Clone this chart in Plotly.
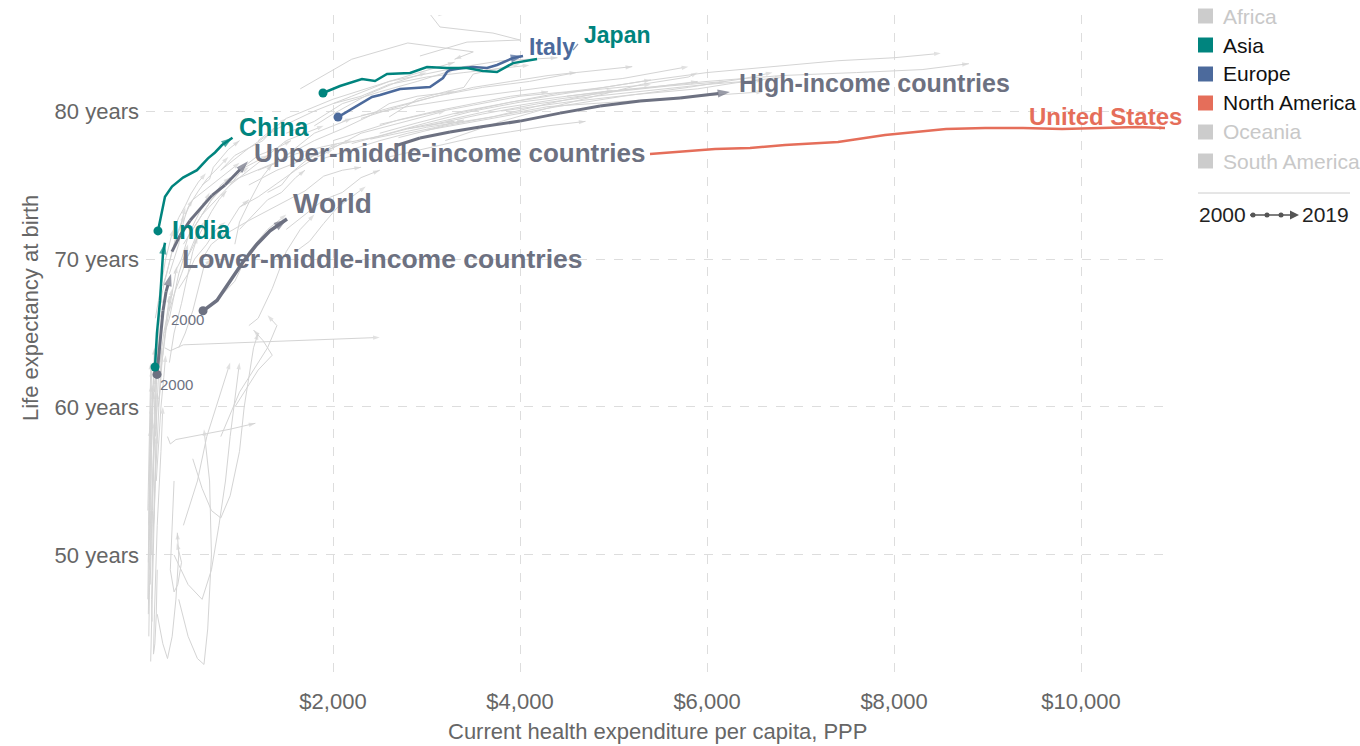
import plotly.graph_objects as go

# ---------------- data (current health expenditure per capita PPP $, life expectancy years) ----------------
years_label_start = "2000"
years_label_end = "2019"

# highlighted series
china_he = [128, 171, 203, 278, 396, 545, 599, 663, 738, 813, 925]
china_le = [71.9, 73.1, 74.2, 74.9, 75.5, 76.0, 76.35, 76.8, 77.2, 77.7, 78.2]

india_he = [96, 117, 150, 171, 182, 203]
india_le = [62.7, 65.0, 67.2, 69.0, 70.4, 71.1]

lmic_he = [118, 139, 160, 182, 215, 268]
lmic_le = [62.2, 63.5, 65.0, 66.5, 67.8, 69.0]

world_he = [610, 759, 898, 1037, 1187, 1326, 1508]
world_le = [66.5, 67.2, 68.5, 69.8, 71.0, 71.9, 72.7]

umic_he = [278, 364, 471, 578, 706, 845, 952, 1091]
umic_le = [70.5, 71.6, 72.6, 73.4, 74.3, 75.0, 75.7, 76.6]

hic_he = [2663, 2930, 3251, 3572, 4000, 4428, 4856, 5283, 5711, 6246]
hic_le = [77.64, 78.18, 78.58, 78.92, 79.32, 79.86, 80.34, 80.68, 80.88, 81.28]

italy_he = [2053, 2182, 2417, 2503, 2717, 3037, 3112, 3176, 3219, 3251, 3390, 3497, 3647, 3754, 3925, 4032]
italy_le = [79.59, 80.07, 80.95, 81.08, 81.49, 81.62, 81.96, 82.23, 82.64, 82.77, 82.91, 82.97, 82.91, 83.11, 83.58, 83.72]

japan_he = [1893, 2075, 2310, 2449, 2578, 2824, 3005, 3219, 3433, 3604, 3754, 3925, 4182]
japan_le = [81.22, 81.69, 82.16, 82.03, 82.50, 82.57, 82.97, 82.91, 82.91, 82.70, 82.64, 83.24, 83.51]

us_he = [5390, 6086, 6460, 6834, 7401, 7904, 8556, 8973, 9380, 9797, 10203, 10610, 10898]
us_le = [77.09, 77.43, 77.50, 77.70, 77.91, 78.38, 78.78, 78.85, 78.85, 78.78, 78.85, 78.92, 78.85]

# background countries (grey), grouped by region of the chart
bg_low_income = [
    ([30, 35, 42, 50, 58, 65, 70], [44.5, 46, 49, 53, 57, 60, 61.5]),
    ([25, 28, 33, 40, 48, 55, 60], [46, 48, 51, 55, 58, 61, 62.5]),
    ([45, 50, 60, 72, 85, 95, 100], [48, 49.5, 52, 56, 59, 61, 62]),
    ([60, 65, 70, 85, 100, 115, 125], [50, 51, 53, 57, 60, 63, 64.5]),
    ([20, 22, 28, 35, 40, 45], [47, 49, 52, 55, 57, 58.5]),
    ([80, 90, 100, 120, 140, 160, 170], [52, 53, 55, 58, 61, 63, 64]),
    ([35, 40, 50, 60, 70, 80], [51, 52.5, 55, 57, 59.5, 61]),
    ([110, 120, 140, 160, 190, 210], [55, 56, 58, 60, 62, 63.5]),
    ([50, 55, 60, 80, 100, 110, 120], [42.8, 44, 46, 50, 55, 59, 61]),
    ([120, 110, 95, 80, 90, 120, 160, 180], [49, 46, 44, 43.3, 46, 52, 57, 60]),
    ([45, 50, 60, 70, 80, 90], [56, 57, 58, 60, 62, 64]),
    ([100, 110, 125, 140, 155, 170], [58, 59, 61, 63, 65, 66.5]),
    ([70, 75, 85, 95, 105, 115], [54, 55, 57, 59, 61, 62.5]),
    ([130, 150, 170, 200, 230, 250], [60, 61, 63, 65, 66.5, 67.5]),
    ([30, 35, 40, 45, 50, 55], [52, 53, 55.5, 58, 60, 61.5]),
    ([40, 45, 55, 65, 75, 90], [49, 50, 52, 54, 57, 59]),
    ([90, 100, 115, 130, 150, 165], [61, 62, 63.5, 65, 66.5, 67.5]),
    ([20, 25, 30, 38, 45, 52], [53, 54.5, 56, 58, 60, 63]),
    ([65, 60, 70, 85, 95, 110], [45.5, 47, 50, 53, 56, 58]),
    ([150, 170, 190, 220, 250, 280], [63, 64, 65, 66, 67, 68]),
    ([55, 60, 68, 78, 88, 98], [57, 58.5, 60, 61.5, 63, 64]),
    ([25, 30, 36, 44, 52, 58], [49.5, 51, 53.5, 56, 58.5, 60]),
]

bg_southern_africa = [
    ([500, 600, 700, 800, 900, 1000, 1050, 1100, 1150, 1200], [56.5, 54.5, 53, 52.5, 54, 57, 60, 62, 64, 65]),
    ([300, 450, 600, 700, 780, 850, 900, 960, 1000], [50, 48, 47, 49, 52, 55, 58, 61, 63]),
    ([400, 450, 550, 650, 750, 850, 900], [52, 53, 55, 58, 60, 62, 63]),
    ([350, 450, 550, 620, 660, 700, 680, 620], [47, 44.5, 43, 42.6, 45, 50, 55, 58.5]),
    ([120, 180, 230, 280, 320, 350, 335], [46, 44, 43, 44.5, 47, 50, 51.5]),
    ([300, 280, 260, 300, 340, 380, 330], [55, 52, 49, 47.5, 48, 49.5, 50.8]),
    ([230, 260, 320, 900, 1170], [58.0, 57.5, 57.8, 58.5, 58.9]),
    ([200, 260, 400, 1200, 2500], [64.0, 63.8, 64.2, 64.4, 64.7]),
    ([800, 900, 1000, 1150, 1300, 1400, 1300], [58, 59.5, 61, 62.5, 64, 65.5, 66.2]),
    ([950, 1050, 1200, 1350, 1250, 1150], [60, 61, 62.5, 63.5, 64.5, 65.2]),
]

bg_middle_income = [
    ([150, 200, 260, 320, 380, 420], [67, 68.5, 70, 71.5, 72.5, 73.5]),
    ([300, 380, 450, 520, 600, 680], [69, 70, 71.5, 72.5, 73.5, 74.5]),
    ([400, 500, 600, 700, 800, 900], [71, 72, 73, 74, 75, 75.5]),
    ([500, 600, 750, 900, 1000, 1100], [72, 73, 74, 75, 75.8, 76.2]),
    ([600, 700, 850, 1000, 1150, 1300], [73, 74, 75, 76, 76.5, 77]),
    ([700, 850, 1000, 1200, 1400, 1550], [74, 75, 76, 77, 77.5, 78]),
    ([900, 1100, 1300, 1500, 1700, 1900], [75, 76, 77, 78, 78.5, 79]),
    ([250, 300, 380, 450, 500, 550], [63, 65, 67, 69, 70.5, 71.5]),
    ([200, 250, 300, 350, 400, 450], [65, 66, 67.5, 69, 70, 71]),
    ([350, 450, 520, 650, 750, 850], [68, 69, 70, 71, 72, 72.5]),
    ([600, 700, 800, 900, 1000, 1100], [70, 71, 71.5, 72.5, 73.5, 74]),
    ([1000, 1150, 1300, 1450, 1600, 1700], [72, 73, 74, 74.5, 75.5, 76]),
    ([800, 950, 1100, 1250, 1400, 1500], [76, 77, 77.5, 78, 79, 79.5]),
    ([1200, 1400, 1600, 1800, 2000, 2200], [76, 76.5, 77.5, 78.5, 79, 79.5]),
    ([500, 600, 700, 800, 900, 1000], [74, 74.5, 75, 75.5, 76, 76.5]),
    ([250, 300, 350, 400, 450, 500], [69, 70, 71, 72.5, 73.5, 74]),
    ([100, 130, 170, 210, 250, 290], [66, 67, 68.5, 70, 71, 72]),
    ([150, 180, 220, 260, 300, 330], [62, 63.5, 65.5, 67, 68.5, 69.5]),
    ([350, 420, 500, 560, 620, 700], [64, 65, 66.5, 68, 69.5, 70]),
    ([1100, 1200, 1350, 1500, 1650, 1800], [65.5, 66, 68, 70.5, 72, 73]),
    ([700, 800, 950, 1100, 1300, 1500], [67, 67.5, 68.5, 70.5, 72, 73]),
    ([1500, 1700, 1900, 2100, 2300, 2500], [72, 73, 74, 74.5, 75.5, 76]),
    ([1800, 2000, 2300, 2600, 2900, 3200], [77, 77.5, 78.5, 79, 79.5, 80]),
    ([300, 350, 420, 480, 560, 640], [72, 72.8, 73.6, 74.4, 75.2, 75.8]),
    ([450, 520, 600, 700, 780, 860], [70.2, 71.0, 72.0, 73.2, 74.0, 74.6]),
    ([180, 220, 270, 320, 370, 410], [68.2, 69.0, 70.3, 71.4, 72.2, 73.0]),
    ([1300, 1450, 1550, 1700, 1850, 2050], [74.5, 75.0, 75.8, 76.6, 77.2, 77.8]),
    ([600, 680, 720, 800, 880, 1000], [75.0, 75.4, 76.2, 76.8, 77.4, 78.0]),
    ([950, 1000, 1100, 1180, 1250, 1350], [71.0, 72.5, 73.8, 74.8, 75.6, 76.4]),
    ([1600, 1750, 1900, 2050, 2200, 2350], [70.5, 71.2, 72.4, 73.5, 74.2, 74.9]),
    ([250, 310, 380, 460, 540, 620], [66.5, 67.8, 69.0, 70.4, 71.6, 72.5]),
    ([420, 480, 560, 650, 760, 880], [73.0, 73.8, 74.6, 75.4, 76.1, 76.9]),
    ([1000, 1200, 1400, 1600, 1800, 2000], [73.5, 74.2, 75.1, 76.0, 76.8, 77.4]),
]

bg_high_income = [
    ([2000, 2300, 2700, 3100, 3500, 3900, 4300], [78, 78.6, 79.4, 80, 80.5, 81, 81.3]),
    ([2200, 2600, 3000, 3500, 4000, 4500, 5000], [77.8, 78.5, 79.2, 80, 80.6, 81, 81.4]),
    ([2500, 2900, 3400, 3900, 4400, 4900, 5400], [78.5, 79.2, 80, 80.6, 81.2, 81.5, 81.8]),
    ([2800, 3300, 3800, 4400, 5000, 5600, 6200], [78.8, 79.5, 80.2, 80.8, 81.3, 81.7, 82]),
    ([3000, 3600, 4200, 4800, 5400, 6000, 6600], [79, 79.8, 80.5, 81, 81.4, 81.8, 82.1]),
    ([2300, 2700, 3100, 3500, 3900, 4300, 4600], [79.5, 80.3, 81, 81.6, 82, 82.4, 82.6]),
    ([2000, 2300, 2600, 3000, 3400, 3800, 4100], [80.5, 81, 81.8, 82.3, 82.6, 82.9, 83.1]),
    ([3300, 3900, 4600, 5300, 6000, 6700, 7400, 8000, 8500], [79.8, 80.6, 81.3, 82, 82.6, 83, 83.4, 83.6, 83.9]),
    ([3000, 3700, 4400, 5100, 5800, 6400, 6700], [78.7, 79.5, 80.3, 81, 81.6, 82.2, 82.6]),
    ([3200, 3800, 4300, 4800, 5300, 5800, 5900], [78, 79.3, 80.2, 81, 81.8, 82.3, 82.6]),
    ([2700, 3200, 3700, 4300, 5000, 5700, 6600], [78.2, 79, 79.6, 80.3, 80.6, 80.9, 81.3]),
    ([2400, 3000, 3700, 4300, 4900, 5400, 5900], [78.1, 78.9, 79.6, 80.5, 81.3, 81.6, 82]),
    ([2300, 2800, 3300, 3900, 4500, 5100, 5800], [79.7, 80.3, 80.8, 81.3, 81.8, 82.2, 83]),
    ([2100, 2600, 3100, 3600, 4100, 4600, 5200], [79.3, 80.2, 81, 81.6, 82, 82.6, 83]),
    ([2500, 3000, 3500, 4000, 4500, 4900, 5400], [79.1, 79.8, 80.4, 81, 81.3, 81.6, 82.1]),
    ([800, 1100, 1400, 1800, 2200, 2600, 3300], [76, 77.5, 78.8, 80, 81, 82, 83.3]),
    ([1200, 1500, 2000, 2600, 3300, 3800, 4400], [78, 79.5, 80.8, 82, 82.9, 83.4, 83.6]),
    ([1500, 1800, 2100, 2400, 2600, 2900, 3300], [77, 78, 78.8, 79.7, 80.5, 81, 81.3]),
    ([1100, 1400, 1800, 2100, 2500, 2800, 3300], [75, 76, 77, 77.8, 78.3, 78.8, 79.3]),
    ([600, 800, 1000, 1300, 1600, 1900, 2200], [73.7, 74.8, 75.5, 76.3, 77.1, 77.6, 78]),
    ([800, 1100, 1400, 1700, 1900, 2100, 2300], [71.5, 72.6, 73.6, 74.6, 75.6, 76, 76.2]),
    ([2930, 3433, 4000, 3711, 3144, 3037, 3198], [83.72, 84.66, 84.8, 85.27, 85.68, 86.55, 86.55]),
    ([1800, 2000, 2200, 2400, 2700, 3000], [79, 79.8, 80.5, 81.2, 82, 82.6]),
    ([1500, 1800, 2100, 2500, 2900, 3300], [78.5, 79.3, 80.5, 81.3, 82, 82.8]),
    ([2600, 2900, 3200, 3400, 3500, 4000], [79.6, 80.8, 81.3, 81.6, 82.5, 83.2]),
    ([1650, 2200, 2800, 3500, 3300], [81.5, 83.5, 84.6, 84.0, 83.5]),
    ([4500, 5200, 6000, 6800, 7600, 8300, 8800], [81.0, 81.5, 82.0, 82.4, 82.6, 82.8, 83.2]),
    ([3800, 4500, 5200, 5900, 6300, 6800], [80.0, 80.6, 81.1, 81.5, 81.9, 82.3]),
    ([1900, 2200, 2500, 2800, 3100, 3400], [76.8, 77.4, 78.0, 78.5, 78.9, 79.4]),
    ([2600, 3000, 3500, 3900, 4300, 4700], [76.9, 77.5, 78.2, 78.6, 79.0, 79.3]),
]

# tick labels
x_tickvals = [2000, 4000, 6000, 8000, 10000]
x_ticktext = ["$2,000", "$4,000", "$6,000", "$8,000", "$10,000"]
y_tickvals = [50, 60, 70, 80]
y_ticktext = ["50 years", "60 years", "70 years", "80 years"]

legend_names = ["Africa", "Asia", "Europe", "North America", "Oceania", "South America"]
legend_active = [False, True, True, True, False, False]

# ---------------- styling ----------------
TEAL = "#00847E"
BLUE = "#4C6A9C"
RED = "#E56E5A"
GREY_INC = "#6D7181"
BG_LINE = "#d4d4d4"
FONT = "Liberation Sans, Arial, Helvetica, sans-serif"

X_MAX = 10898
Y_MIN, Y_MAX = 41.82, 86.49
PL, PR, PT, PB = 146, 1165, 15, 676  # plot area pixel bounds


def px_x(px):
    return (px - PL) / (PR - PL)


def px_y(py):
    return (PB - py) / (PB - PT)


fig = go.Figure()


def add_path(xs, ys, color, width, start_size, arrow_size):
    n = len(xs)
    symbols = ["circle"] * (n - 1) + ["arrow"]
    sizes = [0] * (n - 1) + [arrow_size]
    fig.add_trace(go.Scatter(
        x=xs, y=ys, mode="lines+markers",
        line=dict(color=color, width=width),
        marker=dict(symbol=symbols, size=sizes, color=color, angleref="previous",
                    line=dict(width=0)),
        hoverinfo="skip", showlegend=False,
    ))
    if start_size:
        fig.add_trace(go.Scatter(
            x=xs[:1], y=ys[:1], mode="markers",
            marker=dict(symbol="circle", size=start_size, color=color, line=dict(width=0)),
            hoverinfo="skip", showlegend=False,
        ))


for group in (bg_low_income, bg_southern_africa, bg_middle_income, bg_high_income):
    for xs, ys in group:
        add_path(xs, ys, BG_LINE, 1, 0, 7)

add_path(hic_he, hic_le, GREY_INC, 3, 0, 13)
add_path(umic_he, umic_le, GREY_INC, 3, 0, 13)
add_path(world_he, world_le, GREY_INC, 3.5, 9, 14)
add_path(lmic_he, lmic_le, GREY_INC, 3, 9, 13)
add_path(us_he, us_le, RED, 2.5, 0, 6)
add_path(italy_he, italy_le, BLUE, 2.5, 9, 13)
add_path(japan_he, japan_le, TEAL, 2.5, 9, 0)
add_path(india_he, india_le, TEAL, 2.5, 9, 12)
add_path(china_he, china_le, TEAL, 2.5, 9, 12)


def label(text, x, y, color, size, xanchor="left"):
    fig.add_annotation(x=x, y=y, xref="x", yref="y", text=f"<b>{text}</b>", showarrow=False,
                       xanchor=xanchor, yanchor="middle",
                       font=dict(family=FONT, size=size, color=color))


label("Japan", 4663, 85.14, TEAL, 23)
label("Italy", 4075, 84.32, BLUE, 23)
label("High-income countries", 6321, 81.89, GREY_INC, 25)
label("China", 973, 78.92, TEAL, 25)
label("Upper-middle-income countries", 1134, 77.16, GREY_INC, 26)
label("World", 1551, 73.72, GREY_INC, 28)
label("India", 257, 71.96, TEAL, 25)
label("Lower-middle-income countries", 364, 70.0, GREY_INC, 26.5)
fig.add_annotation(x=px_x(1184), y=px_y(116), xref="paper", yref="paper",
                   text="<b>United States</b>", showarrow=False, xanchor="right", yanchor="middle",
                   font=dict(family=FONT, size=24, color=RED))

for txt, xx, yy in ((years_label_start, 128, 61.49), (years_label_start, 246, 65.88)):
    fig.add_annotation(x=xx, y=yy, xref="x", yref="y", text=txt, showarrow=False,
                       xanchor="left", yanchor="middle",
                       font=dict(family=FONT, size=15, color=GREY_INC))

# connector tick for Japan label
fig.add_shape(type="line", x0=4567, y0=84.12, x1=4620, y1=84.53, xref="x", yref="y",
              line=dict(color="#8a9ab5", width=1.2))

# axis titles
fig.add_annotation(x=px_x(657), y=px_y(731), xref="paper", yref="paper",
                   text="Current health expenditure per capita, PPP", showarrow=False,
                   xanchor="center", yanchor="middle",
                   font=dict(family=FONT, size=22, color="#666666"))
fig.add_annotation(x=px_x(30), y=px_y(308), xref="paper", yref="paper",
                   text="Life expectancy at birth", showarrow=False, textangle=-90,
                   xanchor="center", yanchor="middle",
                   font=dict(family=FONT, size=22, color="#666666"))

# legend (custom)
legend_colors = ["#cccccc", TEAL, BLUE, RED, "#cccccc", "#cccccc"]
for i, (name, active) in enumerate(zip(legend_names, legend_active)):
    cy = 16 + 29 * i
    fig.add_shape(type="rect", xref="paper", yref="paper",
                  x0=px_x(1198), x1=px_x(1213), y0=px_y(cy + 7.5), y1=px_y(cy - 7.5),
                  fillcolor=legend_colors[i], line=dict(width=0))
    fig.add_annotation(x=px_x(1221), y=px_y(cy), xref="paper", yref="paper", text=name,
                       showarrow=False, xanchor="left", yanchor="middle",
                       font=dict(family=FONT, size=21, color="#111111" if active else "#c8c8c8"))

fig.add_shape(type="line", xref="paper", yref="paper", x0=px_x(1198), x1=px_x(1350),
              y0=px_y(193), y1=px_y(193), line=dict(color="#cccccc", width=1))
fig.add_annotation(x=px_x(1197), y=px_y(215), xref="paper", yref="paper", text=years_label_start,
                   showarrow=False, xanchor="left", yanchor="middle",
                   font=dict(family=FONT, size=21, color="#222222"))
fig.add_annotation(x=px_x(1300), y=px_y(215), xref="paper", yref="paper", text=years_label_end,
                   showarrow=False, xanchor="left", yanchor="middle",
                   font=dict(family=FONT, size=21, color="#222222"))
fig.add_shape(type="line", xref="paper", yref="paper", x0=px_x(1250), x1=px_x(1292),
              y0=px_y(215), y1=px_y(215), line=dict(color="#555555", width=1.5))
for cx in (1253, 1267, 1281):
    fig.add_shape(type="circle", xref="paper", yref="paper",
                  x0=px_x(cx - 2.5), x1=px_x(cx + 2.5), y0=px_y(217.5), y1=px_y(212.5),
                  fillcolor="#555555", line=dict(width=0))
fig.add_shape(type="path", xref="paper", yref="paper",
              path=f"M {px_x(1290)} {px_y(210.5)} L {px_x(1299)} {px_y(215)} L {px_x(1290)} {px_y(219.5)} Z",
              fillcolor="#555555", line=dict(width=0))

fig.update_layout(
    width=1360, height=746,
    margin=dict(l=PL, r=1360 - PR, t=PT, b=746 - PB),
    plot_bgcolor="white", paper_bgcolor="white",
    font=dict(family=FONT, color="#666666"),
    showlegend=False,
)
fig.update_xaxes(range=[0, X_MAX], tickvals=x_tickvals, ticktext=x_ticktext,
                 showgrid=True, gridcolor="#dddddd", griddash="dash", gridwidth=1,
                 zeroline=False, showline=False, ticks="",
                 tickfont=dict(family=FONT, size=22, color="#666666"), ticklabelstandoff=10)
fig.update_yaxes(range=[Y_MIN, Y_MAX], tickvals=y_tickvals, ticktext=y_ticktext,
                 showgrid=True, gridcolor="#dddddd", griddash="dash", gridwidth=1,
                 zeroline=False, showline=False, ticks="",
                 tickfont=dict(family=FONT, size=22, color="#666666"), ticklabelstandoff=6)

fig.write_html("out.html", config={"displayModeBar": False},
               post_script="document.body.style.margin='0';document.body.style.overflow='hidden';")
